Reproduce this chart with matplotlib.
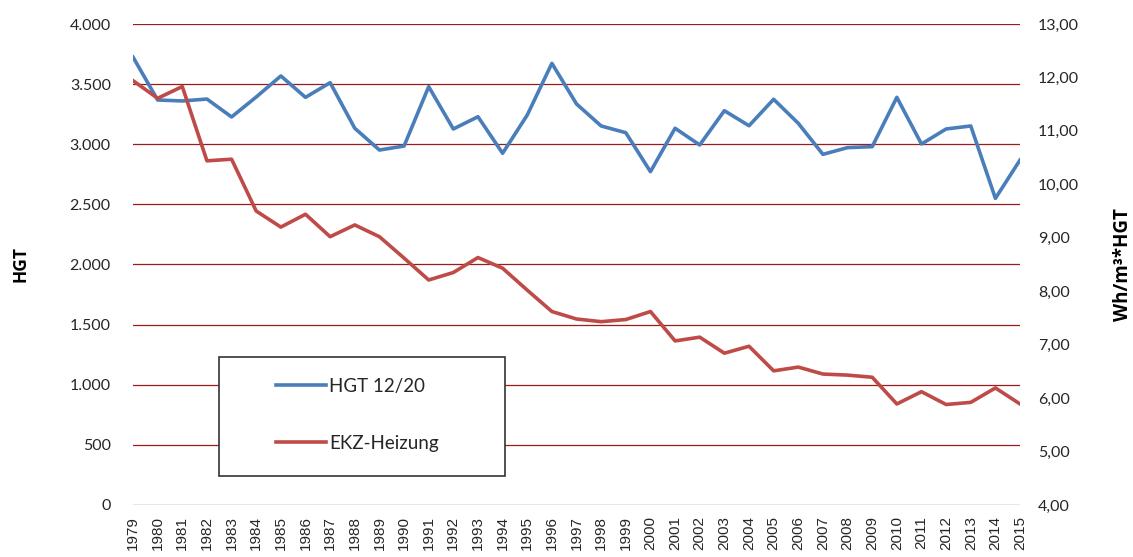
import matplotlib
matplotlib.use("Agg")
import matplotlib.pyplot as plt
from matplotlib.patches import Rectangle
from matplotlib.ticker import FuncFormatter, MultipleLocator

years = list(range(1979, 2016))

# Heizgradtage 12/20 (linke Achse)
hgt = [3725, 3368, 3360, 3376, 3227, 3393, 3568, 3390, 3512, 3133,
       2952, 2985, 3479, 3127, 3229, 2925, 3243, 3673, 3335, 3152,
       3096, 2772, 3133, 2994, 3279, 3154, 3374, 3174, 2916, 2972,
       2980, 3390, 3002, 3127, 3152, 2550, 2869]

# EKZ-Heizung in Wh/m³*HGT (rechte Achse)
ekz = [11.94, 11.61, 11.83, 10.44, 10.47, 9.50, 9.20, 9.44, 9.02, 9.24,
       9.02, 8.62, 8.21, 8.35, 8.63, 8.43, 8.02, 7.62, 7.48, 7.43,
       7.47, 7.62, 7.07, 7.14, 6.84, 6.97, 6.51, 6.58, 6.45, 6.43,
       6.39, 5.89, 6.12, 5.88, 5.92, 6.19, 5.89]

blue = "#4A7EBB"
red = "#BE4B48"
grid_col = "#9B1C1C"
txt = "#262626"

fig = plt.figure(figsize=(11.33, 5.57), dpi=100)
ax = fig.add_axes([0.1174, 0.0934, 0.7829, 0.8635])
ax2 = ax.twinx()

l1, = ax.plot(years, hgt, color=blue, lw=2.6, label="HGT 12/20", zorder=3)
l2, = ax2.plot(years, ekz, color=red, lw=2.6, label="EKZ-Heizung", zorder=3)

ax.set_xlim(1979, 2015)
ax.set_ylim(0, 4000)
ax2.set_ylim(4, 13)
ax.yaxis.set_major_locator(MultipleLocator(500))
ax2.yaxis.set_major_locator(MultipleLocator(1))
ax.set_xticks(years)
ax.set_xticklabels([str(y) for y in years], rotation=90, fontsize=11,
                   family="Liberation Sans", color=txt)

ax.yaxis.set_major_formatter(FuncFormatter(lambda v, p: f"{int(v):,}".replace(",", ".")))
ax2.yaxis.set_major_formatter(FuncFormatter(lambda v, p: f"{v:.2f}".replace(".", ",")))

ax.grid(axis="y", color=grid_col, lw=0.9)
ax.set_axisbelow(True)
for a in (ax, ax2):
    for s in a.spines.values():
        s.set_visible(False)

ax.tick_params(axis="x", length=0, pad=8)
ax.tick_params(axis="y", length=0, pad=16, labelsize=11.5, labelcolor=txt)
ax2.tick_params(axis="y", length=0, pad=13, labelsize=11.5, labelcolor=txt)
for lab in ax.get_yticklabels() + ax2.get_yticklabels():
    lab.set_family("Lato")

ax.set_ylabel("HGT", fontsize=12.5, fontweight="bold", family="Open Sans", labelpad=29)
ax2.set_ylabel("Wh/m³*HGT", fontsize=13.5, fontweight="bold", family="Open Sans", labelpad=24)

# legend box
ax2.add_patch(Rectangle((0.097, 0.060), 0.322, 0.248, transform=ax2.transAxes,
                        facecolor="white", edgecolor="#333333", lw=1.2, zorder=5))
leg = ax2.legend(handles=[l1, l2], loc="upper left", bbox_to_anchor=(0.161, 0.265),
                 frameon=False, handlelength=2.7, handletextpad=0.15,
                 labelspacing=2.15, borderpad=0, borderaxespad=0,
                 prop={"family": "Lato", "size": 13.5})
leg.set_zorder(6)
for t in leg.get_texts():
    t.set_color(txt)

fig.savefig("out.png", dpi=100)
